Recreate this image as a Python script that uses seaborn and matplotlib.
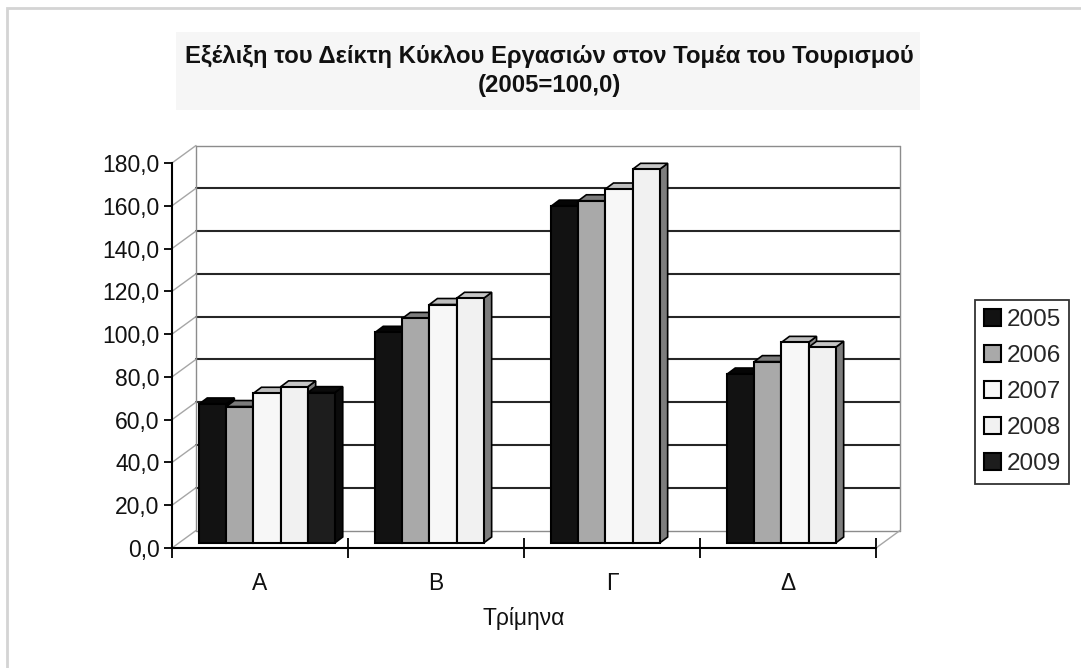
import numpy as np
import pandas as pd
import matplotlib
matplotlib.use("Agg")
import matplotlib.pyplot as plt
import seaborn as sns
from matplotlib.patches import Polygon, Rectangle
from matplotlib.transforms import ScaledTranslation
from matplotlib.ticker import FixedLocator, FuncFormatter

# Turnover index of the tourism sector per quarter (2005 = 100,0)
quarters = ["Α", "Β", "Γ", "Δ"]
years = ["2005", "2006", "2007", "2008", "2009"]
idx_2005 = [65.0, 98.5, 157.5, 79.0]
idx_2006 = [63.8, 105.0, 160.0, 84.8]
idx_2007 = [70.0, 111.5, 165.5, 93.8]
idx_2008 = [73.0, 114.4, 174.7, 91.5]
idx_2009 = [70.3, np.nan, np.nan, np.nan]
y_ticks = [0, 20, 40, 60, 80, 100, 120, 140, 160, 180]

title_text = "Εξέλιξη του Δείκτη Κύκλου Εργασιών στον Τομέα του Τουρισμού\n(2005=100,0)"
x_title = "Τρίμηνα"

series = [idx_2005, idx_2006, idx_2007, idx_2008, idx_2009]
df = pd.DataFrame({
    "quarter": quarters * len(years),
    "year": [y for y in years for _ in quarters],
    "value": [v for s in series for v in s],
})

# face colours: front, top, side
front_col = {"2005": "#121212", "2006": "#a9a9a9", "2007": "#f7f7f7",
             "2008": "#f1f1f1", "2009": "#1d1d1d"}
top_col = {"2005": "#050505", "2006": "#7c7c7c", "2007": "#bebebe",
           "2008": "#c6c6c6", "2009": "#0b0b0b"}
side_col = {"2005": "#050505", "2006": "#6f6f6f", "2007": "#8a8a8a",
            "2008": "#7d7d7d", "2009": "#0b0b0b"}

sns.set_style("white")
plt.rcParams["font.family"] = ["Liberation Sans", "DejaVu Sans"]

W, H, DPI = 1081, 668, 100
fig = plt.figure(figsize=(W / DPI, H / DPI), dpi=DPI)

# outer chart frame and title band
fig.patches.append(Rectangle((7 / W, -0.05), 1.2, 1 - 8 / H + 0.05,
                             transform=fig.transFigure, fill=False,
                             edgecolor="#d4d4d4", lw=2.0, zorder=0))
fig.patches.append(Rectangle((176 / W, 1 - 110 / H), (920 - 176) / W, 78 / H,
                             transform=fig.transFigure, facecolor="#f6f6f6",
                             edgecolor="none", zorder=0))
fig.text(549 / W, 1 - 71 / H, title_text, ha="center", va="center",
         fontsize=17.2, fontweight="bold", linespacing=1.3, color="#111111")

ax = fig.add_axes([172 / W, 120 / H, 704 / W, 385 / H])
sns.barplot(data=df, x="quarter", y="value", hue="year", order=quarters,
            hue_order=years, palette=front_col, width=0.77, gap=0,
            errorbar=None, saturation=1, edgecolor="black", linewidth=1.5,
            ax=ax)
ax.set_xlim(-0.5, 3.5)
ax.set_ylim(0, 180)

# pixel -> data scale factors
p0 = ax.transData.transform((0, 0))
p1 = ax.transData.transform((1, 1))
sx, sy = p1[0] - p0[0], p1[1] - p0[1]

# walls: back wall is shifted up/right from the front plane
bx, by = 24 / sx, 17.5 / sy
x0, x1 = -0.5, 3.5
for v in y_ticks:
    edge = v in (0, 180)
    ax.plot([x0 + bx, x1 + bx], [v + by, v + by],
            color="#8c8c8c" if edge else "#262626",
            lw=1.0 if edge else 1.5, clip_on=False, zorder=1)
    ax.plot([x0, x0 + bx], [v, v + by], color="#a6a6a6", lw=1.0,
            clip_on=False, zorder=1)
ax.plot([x0 + bx, x0 + bx], [by, 180 + by], color="#8c8c8c", lw=1.0,
        clip_on=False, zorder=1)
ax.plot([x1 + bx, x1 + bx], [by, 180 + by], color="#8c8c8c", lw=1.0,
        clip_on=False, zorder=1)
ax.plot([x1, x1 + bx], [0, by], color="#a6a6a6", lw=1.0, clip_on=False,
        zorder=1)

# bars stand a little behind the front plane and get a top and a side face
bar_shift = ax.transData + ScaledTranslation(7 / DPI, 5 / DPI,
                                             fig.dpi_scale_trans)
dx, dy = 8 / sx, 6 / sy
bars = []
for year, cont in zip(years, ax.containers):
    for bar in cont:
        h = bar.get_height()
        if np.isnan(h) or h <= 0:
            bar.set_visible(False)
            continue
        bars.append((bar.get_x(), year, bar))
bars.sort(key=lambda t: t[0])
for i, (x, year, bar) in enumerate(bars):
    z = 3 + 0.01 * i
    w, h = bar.get_width(), bar.get_height()
    bar.set_transform(bar_shift)
    bar.set_zorder(z + 0.005)
    bar.set_clip_on(False)
    top = Polygon([(x, h), (x + w, h), (x + w + dx, h + dy), (x + dx, h + dy)],
                  closed=True, facecolor=top_col[year], edgecolor="black",
                  lw=1.2, transform=bar_shift, zorder=z, clip_on=False)
    side = Polygon([(x + w, 0), (x + w + dx, dy), (x + w + dx, h + dy), (x + w, h)],
                   closed=True, facecolor=side_col[year], edgecolor="black",
                   lw=1.2, transform=bar_shift, zorder=z, clip_on=False)
    ax.add_patch(side)
    ax.add_patch(top)

# axes styling
for s in ("top", "right"):
    ax.spines[s].set_visible(False)
for s in ("left", "bottom"):
    ax.spines[s].set_color("black")
    ax.spines[s].set_linewidth(1.5)
    ax.spines[s].set_zorder(10)
ax.yaxis.set_major_locator(FixedLocator(y_ticks))
ax.yaxis.set_major_formatter(FuncFormatter(lambda v, _: f"{v:.1f}".replace(".", ",")))
ax.tick_params(axis="y", direction="out", length=6, width=1.3, color="black",
               labelsize=16.5, pad=3, labelcolor="#111111", left=True)
ax.set_xticks(range(len(quarters)))
ax.set_xticklabels(quarters)
ax.xaxis.set_minor_locator(FixedLocator([-0.5, 0.5, 1.5, 2.5, 3.5]))
ax.tick_params(axis="x", which="major", length=0, labelsize=16.5, pad=17,
               labelcolor="#111111")
ax.tick_params(axis="x", which="minor", direction="inout", length=14,
               width=1.3, color="black", bottom=True)
ax.set_xlabel(x_title, fontsize=16.5, labelpad=9, color="#111111")
ax.set_ylabel("")
ax.grid(False)
ax.patch.set_alpha(0)

handles, labels = ax.get_legend_handles_labels()
leg = ax.legend(handles, labels, loc="center left",
                bbox_to_anchor=(975 / W, 1 - 392 / H),
                bbox_transform=fig.transFigure, frameon=True, fancybox=False,
                edgecolor="black", fontsize=17.5, handlelength=0.7,
                handleheight=0.7, handletextpad=0.25, labelspacing=0.58,
                borderpad=0.35, borderaxespad=0)
leg.get_frame().set_linewidth(1.3)

fig.savefig("out.png", dpi=DPI)
